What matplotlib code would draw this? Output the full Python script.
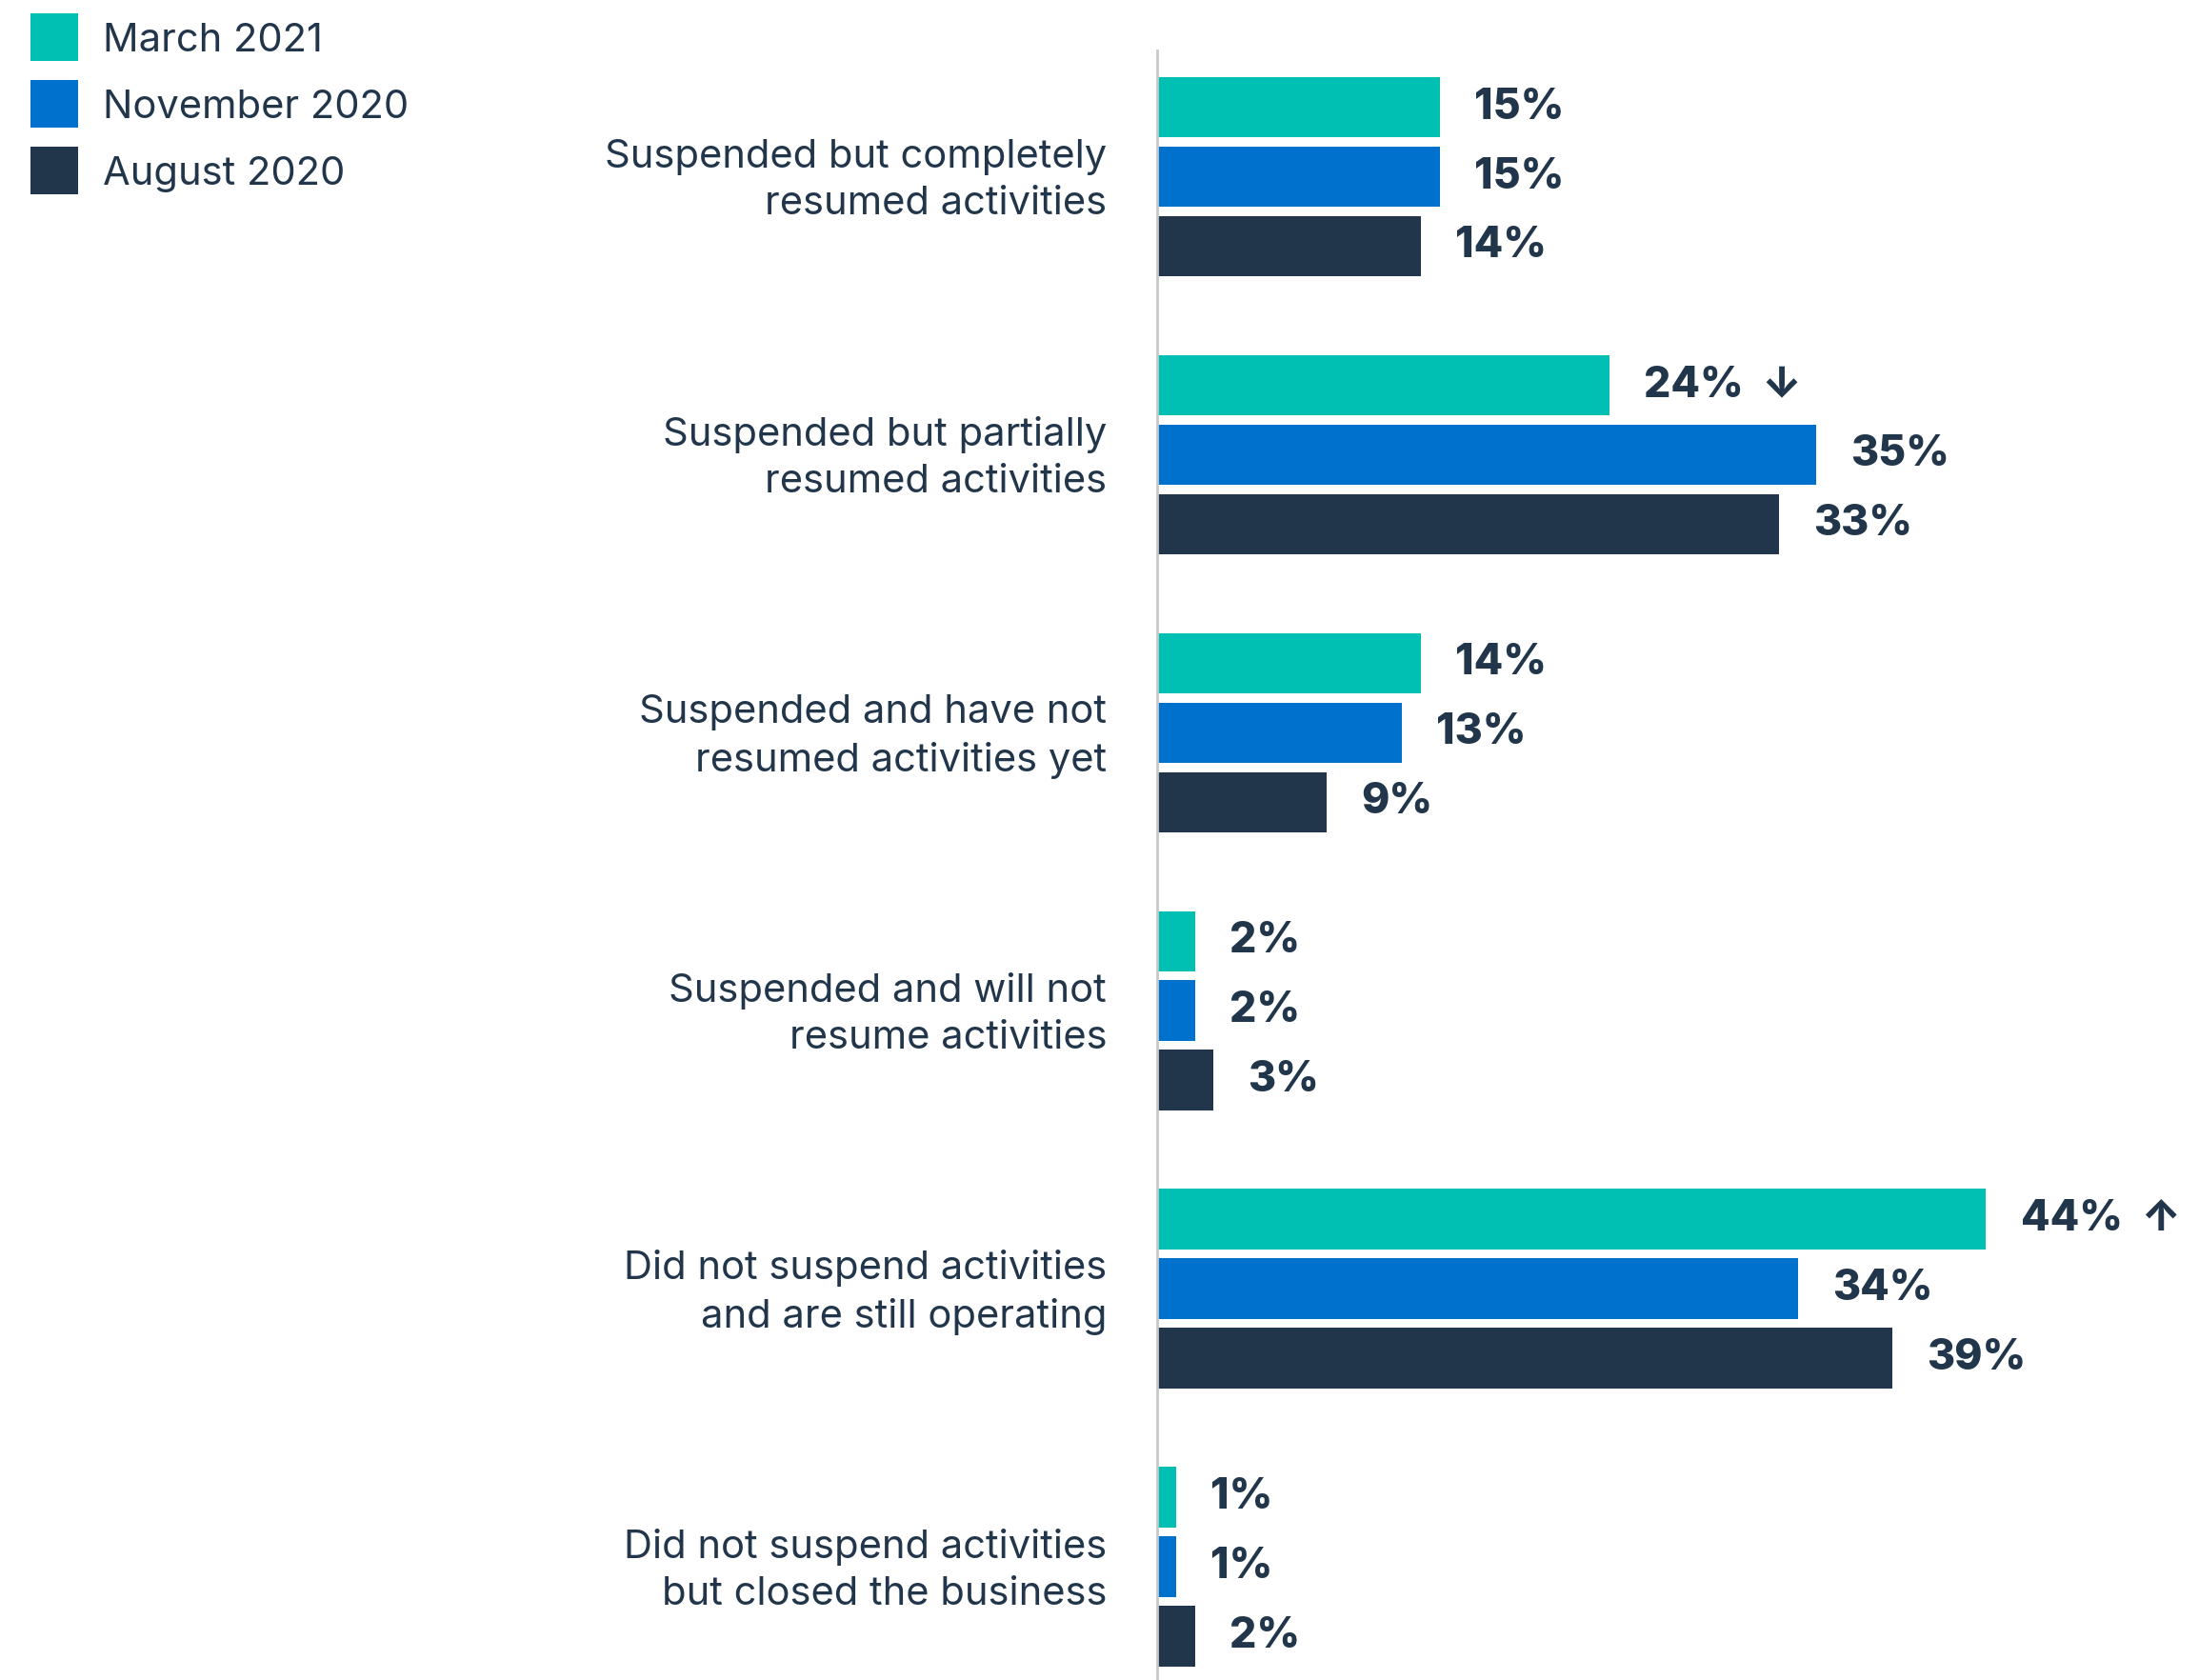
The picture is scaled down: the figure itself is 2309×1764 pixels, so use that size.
import matplotlib
matplotlib.use("Agg")
import matplotlib.pyplot as plt
from matplotlib.patches import Rectangle
import numpy as np

# Survey responses, share of businesses (%)
categories = [
    "Suspended but completely\nresumed activities",
    "Suspended but partially\nresumed activities",
    "Suspended and have not\nresumed activities yet",
    "Suspended and will not\nresume activities",
    "Did not suspend activities\nand are still operating",
    "Did not suspend activities\nbut closed the business",
]
series_names = ["March 2021", "November 2020", "August 2020"]
march_2021 = [15, 24, 14, 2, 44, 1]
november_2020 = [15, 35, 13, 2, 34, 1]
august_2020 = [14, 33, 9, 3, 39, 2]
# trend markers shown next to the March 2021 values
march_trend = ["", "↓", "", "", "↑", ""]

colors = ["#00BFB3", "#0072CE", "#22364B"]
text_color = "#22364B"

plt.rcParams["font.family"] = ["Inter", "DejaVu Sans"]

W, H, DPI = 2309, 1764, 100
fig = plt.figure(figsize=(W / DPI, H / DPI), dpi=DPI)
ax = fig.add_axes([1215 / W, 0, 1 - 1215 / W, 1 - 53 / H])

y = np.arange(len(categories))
pitch = 0.25
bar_h = 0.217
all_series = [march_2021, november_2020, august_2020]

for k, (vals, col) in enumerate(zip(all_series, colors)):
    pos = y + (k - 1) * pitch
    ax.barh(pos, vals, height=bar_h, color=col, linewidth=0)
    for i, (p, v) in enumerate(zip(pos, vals)):
        label = f"{v}%"
        if k == 0 and march_trend[i]:
            label += "  " + march_trend[i]
        ax.annotate(label, (v, p), xytext=(26, 0), textcoords="offset points",
                    ha="left", va="center", fontsize=32, fontweight="heavy",
                    color=text_color)

ax.set_xlim(0, 55.3)
ax.set_ylim(5.408, -0.454)
ax.set_xticks([])
ax.set_yticks(y - 0.02)
ax.set_yticklabels(categories, fontsize=30, color=text_color,
                   linespacing=1.38, ha="right")
ax.tick_params(axis="y", length=0, pad=38)
for side in ["top", "right", "bottom"]:
    ax.spines[side].set_visible(False)
ax.spines["left"].set_color("#c8c8c8")
ax.spines["left"].set_linewidth(2)

# legend drawn as coloured squares with labels, top-left
for k, (name, col) in enumerate(zip(series_names, colors)):
    top = 14 + k * 70
    fig.add_artist(Rectangle((32 / W, 1 - (top + 50) / H), 50 / W, 50 / H,
                             transform=fig.transFigure, color=col, linewidth=0))
    fig.text(108 / W, 1 - (top + 29) / H, name, fontsize=30, color=text_color,
             ha="left", va="center")

fig.savefig("out.png", dpi=DPI, facecolor="white")
